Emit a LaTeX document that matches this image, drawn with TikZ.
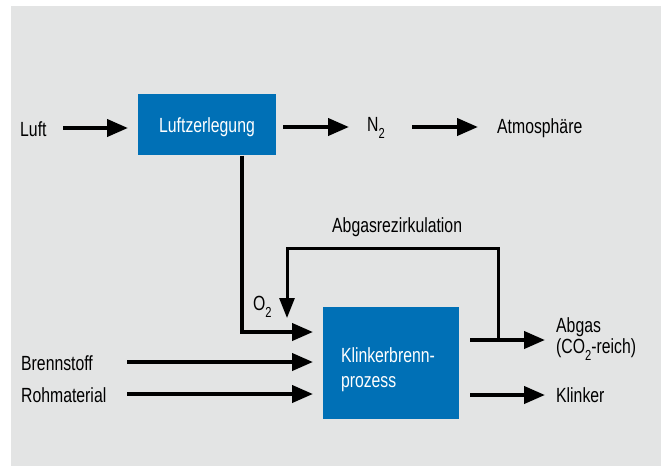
\documentclass[tikz,border=0pt]{standalone}
\usepackage{fontspec}
\setmainfont[FakeStretch=0.77]{Liberation Sans}
\usetikzlibrary{arrows.meta}
\definecolor{bggray}{RGB}{227,228,228}
\definecolor{boxblue}{RGB}{0,112,182}
\newcommand\subtwo{\raisebox{-7.5pt}{\fontsize{14.5}{14.5}\selectfont 2}}
\begin{document}
\begin{tikzpicture}[x=1pt,y=-1pt,
  txt/.style={inner sep=0pt, anchor=base west, font=\fontsize{20.5}{20.5}\selectfont},
  proc/.style={fill=boxblue, draw=none, text=white, font=\fontsize{20.5}{25}\selectfont},
  arr/.style={line width=4pt, -{Triangle[length=21pt,width=17pt]}},
  recirc/.style={line width=3pt, -{Triangle[length=20pt,width=15pt]}}
]
\useasboundingbox (0,0) rectangle (661,466);
\fill[bggray] (11,6) rectangle (661,466);
% process boxes
\node[proc, inner sep=0pt, minimum width=138pt, minimum height=61pt,
      text height=15pt, text depth=0pt] (lz) at (207,124.7) {Luftzerlegung};
\node[proc, inner xsep=18pt, inner ysep=0pt, text width=100pt, align=left,
      minimum width=136pt, minimum height=112pt,
      text height=14pt, text depth=16pt] (kb) at (391,363) {Klinkerbrenn-\\prozess};
% labels
\node[txt] (luft) at (20,136) {Luft};
\node[txt] (n2) at (367,131) {N\subtwo};
\node[txt] (atm) at (497,133) {Atmosphäre};
\node[txt] (rez) at (332,232) {Abgasrezirkulation};
\node[txt] (o2) at (253,310) {O\subtwo};
\node[txt] (brs) at (21,370) {Brennstoff};
\node[txt] (roh) at (21,402) {Rohmaterial};
\node[txt, align=left] (abg) at (556,353) {Abgas\\(CO\subtwo-reich)};
\node[txt] (kli) at (556,402) {Klinker};
% connector end points
\coordinate (c1) at (63,128);
\coordinate (c1e) at (128,128);
\coordinate (c2) at (283,127);
\coordinate (c3) at (349,127);
\coordinate (c4) at (412,127);
\coordinate (c5) at (478,127);
\coordinate (o1) at (242,155.5);
\coordinate (o2c) at (242,332);
\coordinate (c6) at (313,332);
\coordinate (c7) at (127,362);
\coordinate (c8) at (313,362);
\coordinate (c9) at (127,394);
\coordinate (c10) at (313,394);
\coordinate (c11) at (470,340);
\coordinate (c12) at (545,340);
\coordinate (c13) at (470,395);
\coordinate (c14) at (545,395);
\coordinate (r1) at (498,340);
\coordinate (r2) at (498,248);
\coordinate (r3) at (287,248);
\coordinate (r4) at (287,318);
% connectors
\draw[arr] (c1) -- (c1e);
\draw[arr] (c2) -- (c3);
\draw[arr] (c4) -- (c5);
\draw[arr] (o1) -- (o2c) -- (c6);
\draw[arr] (c7) -- (c8);
\draw[arr] (c9) -- (c10);
\draw[arr] (c11) -- (c12);
\draw[arr] (c13) -- (c14);
\draw[recirc] (r1) -- (r2) -- (r3) -- (r4);
\end{tikzpicture}
\end{document}
